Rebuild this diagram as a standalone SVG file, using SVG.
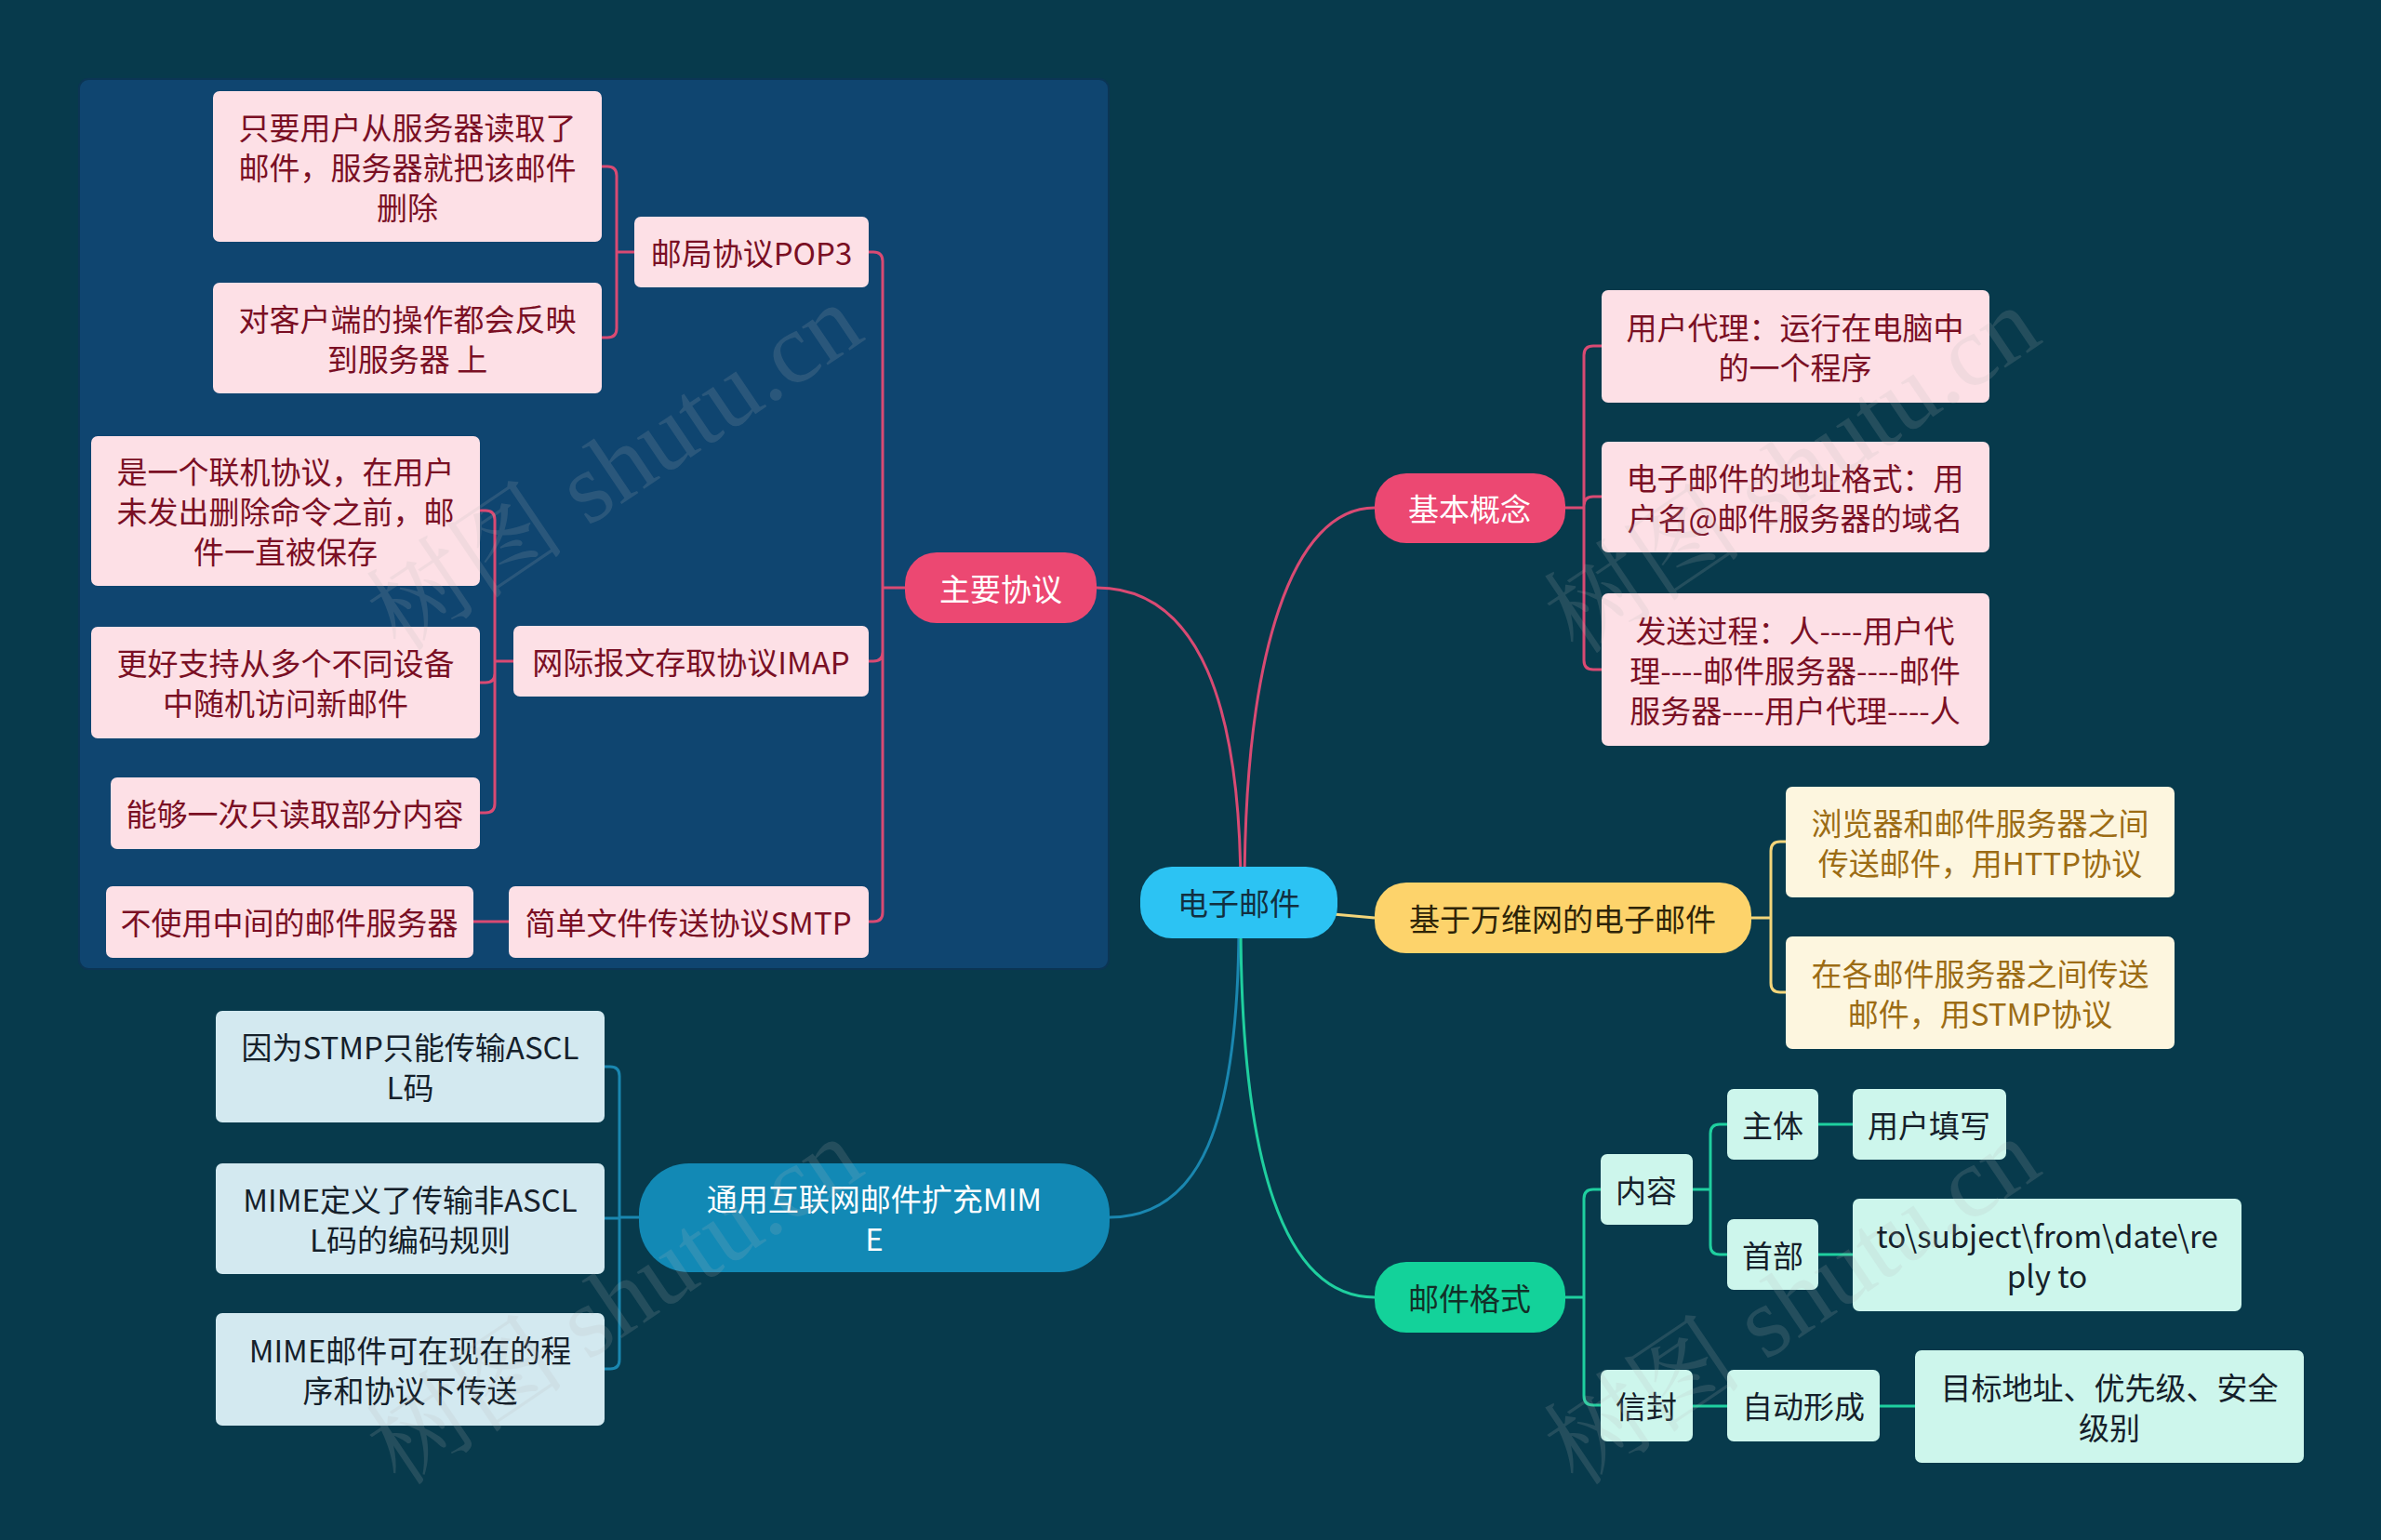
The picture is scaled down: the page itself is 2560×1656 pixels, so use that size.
<svg xmlns="http://www.w3.org/2000/svg" width="2560" height="1656" viewBox="0 0 2560 1656">
<style>
.t{font-family:"Noto Sans CJK SC","Noto Sans",sans-serif;font-size:33px;text-anchor:middle;dominant-baseline:central}
.pl{fill:#fde0e6}
.plt{fill:#7a0f24}
.yl{fill:#fdf6df}
.ylt{fill:#9c6c14}
.bl{fill:#d3e9f0}
.blt{fill:#15202a}
.gl{fill:#cdf6ec}
.glt{fill:#15202a}
.cp{fill:none;stroke:#d94a73;stroke-width:3}
.cy{fill:none;stroke:#f3d57a;stroke-width:3}
.cb{fill:none;stroke:#1a87b0;stroke-width:3}
.cg{fill:none;stroke:#1fcf9f;stroke-width:3}
.wm{font-family:"Liberation Serif","Noto Serif CJK SC","Noto Sans CJK SC",serif;font-size:108px;fill:#b8b8b8;opacity:0.16;text-anchor:middle;dominant-baseline:central}
</style>
<rect x="0" y="0" width="2560" height="1656" fill="#073a4c"/>
<rect x="85" y="85" width="1107" height="957" rx="10" fill="#0f4570" stroke="#0b3554" stroke-width="2"/>

<g id="connectors">
  <path class="cp" d="M1179,632 C1290,632 1334,760 1334,960"/>
  <path class="cp" d="M1478,546 C1390,546 1338,700 1338,960"/>
  <path class="cy" stroke-width="5" d="M1400,980 L1478,987"/>
  <path class="cb" d="M1332,990 C1332,1210 1290,1309 1193,1309"/>
  <path class="cg" d="M1334,990 C1334,1250 1380,1395 1478,1395"/>
  <path class="cp" d="M973,632 H949 M949,632 V281 Q949,271 939,271 H934 M949,632 V701 Q949,711 939,711 H934 M949,632 V981 Q949,991 939,991 H934"/>
  <path class="cp" d="M682,271 H663 M663,271 V189 Q663,179 653,179 H647 M663,271 V353 Q663,363 653,363 H647"/>
  <path class="cp" d="M552,711 H532 M532,711 V559 Q532,549 522,549 H516 M532,711 V724 Q532,734 522,734 H516 M532,711 V864 Q532,874 522,874 H516"/>
  <path class="cp" stroke-width="5" d="M509,991 H547"/>
  <path class="cp" d="M1683,546 H1703 M1703,546 V382 Q1703,372 1713,372 H1722 M1703,546 V544 Q1703,534 1713,534 H1722 M1703,546 V710 Q1703,720 1713,720 H1722"/>
  <path class="cy" d="M1883,987 H1904 M1904,987 V915 Q1904,905 1914,905 H1920 M1904,987 V1057 Q1904,1067 1914,1067 H1920"/>
  <path class="cb" d="M687,1309 H666 M666,1309 V1157 Q666,1147 656,1147 H650 M666,1309 V1310 H650 M666,1309 V1462 Q666,1472 656,1472 H650"/>
  <path class="cg" d="M1683,1395 H1703 M1703,1395 V1289 Q1703,1279 1713,1279 H1721 M1703,1395 V1501 Q1703,1511 1713,1511 H1721"/>
  <path class="cg" d="M1820,1279 H1839 M1839,1279 V1219 Q1839,1209 1849,1209 H1857 M1839,1279 V1339 Q1839,1349 1849,1349 H1857"/>
  <path class="cg" stroke-width="5" d="M1955,1209 H1992 M1955,1349 H1992 M1820,1512 H1857 M2021,1512 H2059"/>
</g>

<g id="n-center"><rect x="1226" y="932" width="212" height="77" rx="34" fill="#2cc3f3"/><text class="t" x="1332" y="970" fill="#123040">电子邮件</text></g>
<g id="n-main"><rect x="973" y="594" width="206" height="76" rx="34" fill="#ec4872"/><text class="t" x="1076" y="632" fill="#ffffff">主要协议</text></g>
<g id="n-basic"><rect x="1478" y="509" width="205" height="75" rx="34" fill="#ec4872"/><text class="t" x="1580" y="546" fill="#ffffff">基本概念</text></g>
<g id="n-web"><rect x="1478" y="949" width="405" height="76" rx="34" fill="#fdd36b"/><text class="t" x="1680" y="987" fill="#2e2408">基于万维网的电子邮件</text></g>
<g id="n-mime"><rect x="687" y="1251" width="506" height="117" rx="54" fill="#1289b5"/><text class="t" x="940" y="1288" fill="#ffffff">通用互联网邮件扩充MIM</text><text class="t" x="940" y="1331" fill="#ffffff">E</text></g>
<g id="n-format"><rect x="1478" y="1357" width="205" height="76" rx="34" fill="#13d29a"/><text class="t" x="1580" y="1395" fill="#123028">邮件格式</text></g>

<g id="n-pop3"><rect class="pl" x="682" y="233" width="252" height="76" rx="7"/><text class="t plt" x="808" y="271">邮局协议POP3</text></g>
<g id="n-pop3-a"><rect class="pl" x="229" y="98" width="418" height="162" rx="7"/><text class="t plt" x="438" y="136">只要用户从服务器读取了</text><text class="t plt" x="438" y="179">邮件，服务器就把该邮件</text><text class="t plt" x="438" y="222">删除</text></g>
<g id="n-pop3-b"><rect class="pl" x="229" y="304" width="418" height="119" rx="7"/><text class="t plt" x="438" y="342">对客户端的操作都会反映</text><text class="t plt" x="438" y="385">到服务器 上</text></g>
<g id="n-imap"><rect class="pl" x="552" y="673" width="382" height="76" rx="7"/><text class="t plt" x="743" y="711">网际报文存取协议IMAP</text></g>
<g id="n-imap-a"><rect class="pl" x="98" y="469" width="418" height="161" rx="7"/><text class="t plt" x="307" y="506">是一个联机协议，在用户</text><text class="t plt" x="307" y="549">未发出删除命令之前，邮</text><text class="t plt" x="307" y="592">件一直被保存</text></g>
<g id="n-imap-b"><rect class="pl" x="98" y="674" width="418" height="120" rx="7"/><text class="t plt" x="307" y="712">更好支持从多个不同设备</text><text class="t plt" x="307" y="755">中随机访问新邮件</text></g>
<g id="n-imap-c"><rect class="pl" x="119" y="836" width="397" height="77" rx="7"/><text class="t plt" x="317" y="874">能够一次只读取部分内容</text></g>
<g id="n-smtp"><rect class="pl" x="547" y="953" width="387" height="77" rx="7"/><text class="t plt" x="740" y="991">简单文件传送协议SMTP</text></g>
<g id="n-smtp-a"><rect class="pl" x="114" y="953" width="395" height="77" rx="7"/><text class="t plt" x="311" y="991">不使用中间的邮件服务器</text></g>

<g id="n-basic-a"><rect class="pl" x="1722" y="312" width="417" height="121" rx="7"/><text class="t plt" x="1930" y="351">用户代理：运行在电脑中</text><text class="t plt" x="1930" y="394">的一个程序</text></g>
<g id="n-basic-b"><rect class="pl" x="1722" y="475" width="417" height="119" rx="7"/><text class="t plt" x="1930" y="513">电子邮件的地址格式：用</text><text class="t plt" x="1930" y="556">户名@邮件服务器的域名</text></g>
<g id="n-basic-c"><rect class="pl" x="1722" y="638" width="417" height="164" rx="7"/><text class="t plt" x="1930" y="677">发送过程：人----用户代</text><text class="t plt" x="1930" y="720">理----邮件服务器----邮件</text><text class="t plt" x="1930" y="763">服务器----用户代理----人</text></g>

<g id="n-web-a"><rect class="yl" x="1920" y="846" width="418" height="119" rx="7"/><text class="t ylt" x="2129" y="884">浏览器和邮件服务器之间</text><text class="t ylt" x="2129" y="927">传送邮件，用HTTP协议</text></g>
<g id="n-web-b"><rect class="yl" x="1920" y="1007" width="418" height="121" rx="7"/><text class="t ylt" x="2129" y="1046">在各邮件服务器之间传送</text><text class="t ylt" x="2129" y="1089">邮件，用STMP协议</text></g>

<g id="n-mime-a"><rect class="bl" x="232" y="1087" width="418" height="120" rx="7"/><text class="t blt" x="441" y="1125">因为STMP只能传输ASCL</text><text class="t blt" x="441" y="1168">L码</text></g>
<g id="n-mime-b"><rect class="bl" x="232" y="1251" width="418" height="119" rx="7"/><text class="t blt" x="441" y="1289">MIME定义了传输非ASCL</text><text class="t blt" x="441" y="1332">L码的编码规则</text></g>
<g id="n-mime-c"><rect class="bl" x="232" y="1412" width="418" height="121" rx="7"/><text class="t blt" x="441" y="1451">MIME邮件可在现在的程</text><text class="t blt" x="441" y="1494">序和协议下传送</text></g>

<g id="n-content"><rect class="gl" x="1721" y="1241" width="99" height="76" rx="7"/><text class="t glt" x="1770" y="1279">内容</text></g>
<g id="n-envelope"><rect class="gl" x="1721" y="1473" width="99" height="77" rx="7"/><text class="t glt" x="1770" y="1511">信封</text></g>
<g id="n-body"><rect class="gl" x="1857" y="1171" width="98" height="76" rx="7"/><text class="t glt" x="1906" y="1209">主体</text></g>
<g id="n-header"><rect class="gl" x="1857" y="1311" width="98" height="76" rx="7"/><text class="t glt" x="1906" y="1349">首部</text></g>
<g id="n-user"><rect class="gl" x="1992" y="1171" width="165" height="76" rx="7"/><text class="t glt" x="2074" y="1209">用户填写</text></g>
<g id="n-fields"><rect class="gl" x="1992" y="1289" width="418" height="121" rx="7"/><text class="t glt" x="2201" y="1328">to\subject\from\date\re</text><text class="t glt" x="2201" y="1371">ply to</text></g>
<g id="n-auto"><rect class="gl" x="1857" y="1473" width="164" height="77" rx="7"/><text class="t glt" x="1939" y="1511">自动形成</text></g>
<g id="n-target"><rect class="gl" x="2059" y="1452" width="418" height="121" rx="7"/><text class="t glt" x="2268" y="1491">目标地址、优先级、安全</text><text class="t glt" x="2268" y="1534">级别</text></g>

<g id="watermarks">
  <text class="wm" transform="translate(661,503) rotate(-34)">树图 shutu.cn</text>
  <text class="wm" transform="translate(1927,506) rotate(-34)">树图 shutu.cn</text>
  <text class="wm" transform="translate(661,1400) rotate(-34)">树图 shutu.cn</text>
  <text class="wm" transform="translate(1927,1400) rotate(-34)">树图 shutu.cn</text>
</g>
</svg>
